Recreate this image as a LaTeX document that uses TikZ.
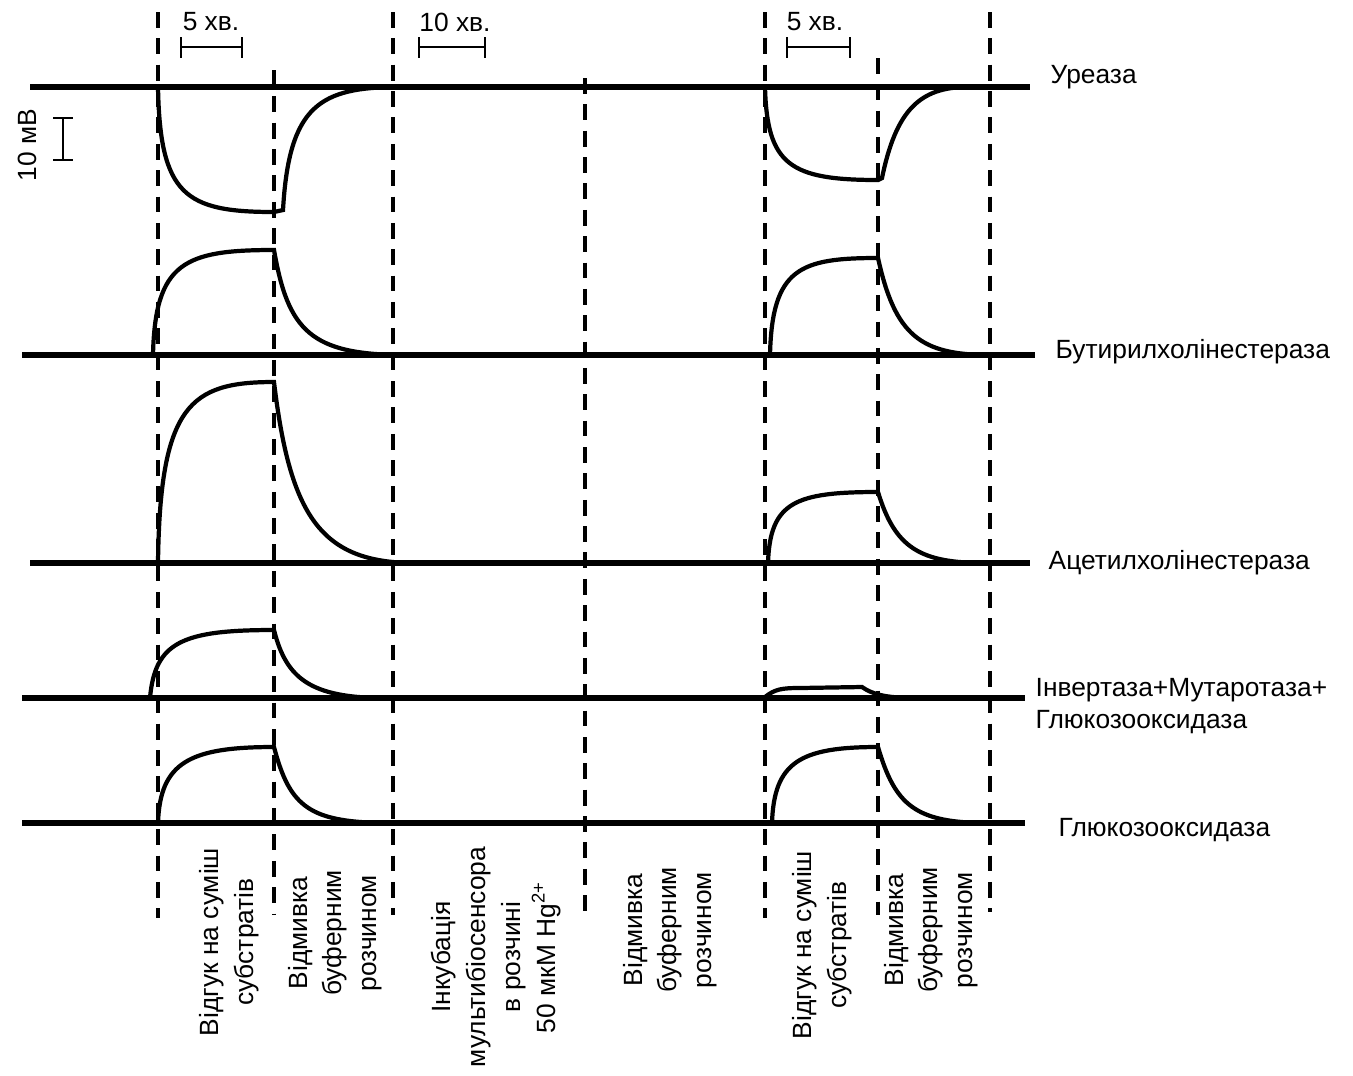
\documentclass[tikz,border=0pt]{standalone}
\usepackage{fontspec}
\setmainfont{Liberation Sans}
\begin{document}
\begin{tikzpicture}[x=0.1mm,y=-0.1mm,
    zero/.style ={line width=1.7pt},
    resp/.style ={line width=1.2pt},
    stage/.style ={line width=0.9pt, dash pattern=on 4.5pt off 3pt},
    bar/.style ={line width=0.6pt},
    scaletext/.style ={inner sep=0pt, font=\fontsize{7.5}{9.2}\selectfont},
    enzyme/.style ={anchor=west, inner sep=0pt, align=left, font=\fontsize{7.5}{9.2}\selectfont},
    phase/.style ={rotate=90, inner sep=0pt, align=center, font=\fontsize{7.5}{9.9}\selectfont}]
   \useasboundingbox (0,0) rectangle (1353,1075);

   % stage borders
   \draw[stage] (158,12) -- (158,918);
   \draw[stage] (274,70) -- (274,915);
   \draw[stage] (393,12) -- (393,915);
   \draw[stage] (585,78) -- (585,915);
   \draw[stage] (765,12) -- (765,918);
   \draw[stage] (878,58) -- (878,915);
   \draw[stage] (990,12) -- (990,912);

   % time and voltage scales
   \node[scaletext] (t1) at (211,22) {5 хв.};
   \draw[bar] (181,37) -- (181,58) (181,47) -- (242,47) (242,37) -- (242,58);
   \node[scaletext] (t2) at (455,22) {10 хв.};
   \draw[bar] (419,37) -- (419,58) (419,47) -- (485,47) (485,37) -- (485,58);
   \node[scaletext] (t3) at (815,22) {5 хв.};
   \draw[bar] (787,37) -- (787,58) (787,47) -- (850,47) (850,37) -- (850,58);
   \node[scaletext, rotate=90] (mv) at (27,145) {10 мВ};
   \draw[bar] (53,118) -- (73,118) (63,118) -- (63,160) (53,160) -- (73,160);

   % Ureasa
   \draw[zero] (30,87) -- (1030,87);
   \draw[resp] (158,87) .. controls (160,195) and (185,212) .. (274,212) -- (283,210)
      .. controls (289,105) and (320,87) .. (400,87);
   \draw[resp] (765,87) .. controls (767,165) and (790,180) .. (878,180) -- (882,178)
      .. controls (896,110) and (920,87) .. (968,87);
   \node[enzyme] (ure) at (1050,77) {Уреаза};

   % BuChE
   \draw[zero] (22,355) -- (1035,355);
   \draw[resp] (153,355) .. controls (155,262) and (185,250) .. (274,250)
      .. controls (288,330) and (310,355) .. (405,355);
   \draw[resp] (770,355) .. controls (772,268) and (800,258) .. (878,258)
      .. controls (895,335) and (920,355) .. (990,355);
   \node[enzyme] (buche) at (1055,352) {Бутирилхолінестераза};

   % AChE
   \draw[zero] (30,563) -- (1030,563);
   \draw[resp] (158,563) .. controls (160,405) and (190,382) .. (274,382)
      .. controls (290,515) and (320,563) .. (415,563);
   \draw[resp] (768,563) .. controls (770,502) and (795,492) .. (878,492)
      .. controls (895,548) and (920,563) .. (985,563);
   \node[enzyme] (ache) at (1048,563) {Ацетилхолінестераза};

   % invertase + mutarotase + GOD
   \draw[zero] (22,698) -- (1025,698);
   \draw[resp] (150,698) .. controls (155,642) and (182,630) .. (274,630)
      .. controls (286,678) and (310,698) .. (385,698);
   \draw[resp] (765,697) .. controls (775,689) and (782,688) .. (800,688) -- (862,687)
      .. controls (872,694) and (885,698) .. (915,698);
   \node[enzyme] (inv) at (1035,706) {Інвертаза+Мутаротаза+\\Глюкозооксидаза};

   % GOD
   \draw[zero] (22,823) -- (1025,823);
   \draw[resp] (158,823) .. controls (160,762) and (190,747) .. (274,747)
      .. controls (290,808) and (310,823) .. (392,823);
   \draw[resp] (772,823) .. controls (774,762) and (800,747) .. (878,747)
      .. controls (895,805) and (915,823) .. (988,823);
   \node[enzyme] (god) at (1058,830) {Глюкозооксидаза};

   % stage names
   \node[phase] (s1) at (229,942) {Відгук на суміш\\субстратів};
   \node[phase] (s2) at (335,933) {Відмивка\\буферним\\розчином};
   \node[phase] (s3) at (496,957) {Інкубація\\мультибіосенсора\\в розчині\\50 мкМ Hg\textsuperscript{2+}};
   \node[phase] (s4) at (670,930) {Відмивка\\буферним\\розчином};
   \node[phase] (s5) at (822,945) {Відгук на суміш\\субстратів};
   \node[phase] (s6) at (931,930) {Відмивка\\буферним\\розчином};
 \end{tikzpicture}
\end{document}
